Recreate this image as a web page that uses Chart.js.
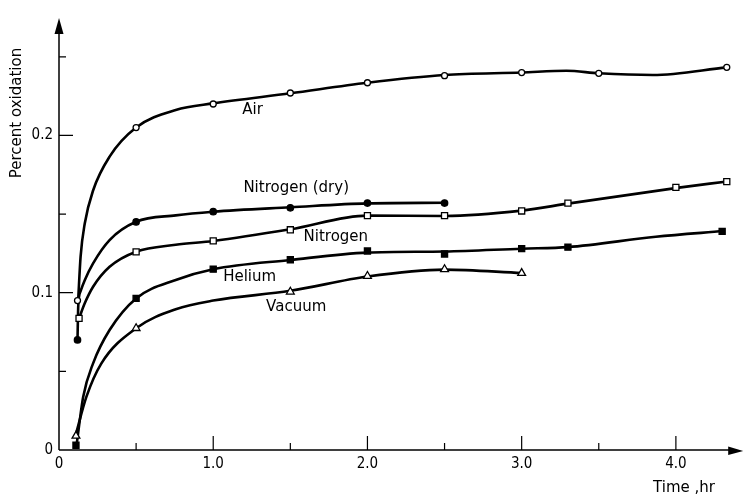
<!DOCTYPE html>
<html>
<head>
<meta charset="utf-8">
<title>Percent oxidation vs time</title>
<script src="https://cdn.jsdelivr.net/npm/chart.js@4/dist/chart.umd.min.js"></script>
<style>
  html, body { margin: 0; padding: 0; background: #fff; }
  #wrap { width: 748px; height: 497px; }
</style>
</head>
<body>
<div id="wrap"><canvas id="chart" width="748" height="497"></canvas></div>
<script>
// Measured points (time in hr, percent oxidation)
const airTime   = [0.12, 0.5, 1.0, 1.5, 2.0, 2.5, 3.0, 3.5, 4.33];
const airPct    = [0.095, 0.205, 0.220, 0.227, 0.2335, 0.238, 0.240, 0.2395, 0.2433];

const n2DryTime = [0.12, 0.5, 1.0, 1.5, 2.0, 2.5];
const n2DryPct  = [0.070, 0.145, 0.1515, 0.154, 0.157, 0.157];

const n2Time    = [0.13, 0.5, 1.0, 1.5, 2.0, 2.5, 3.0, 3.3, 4.0, 4.33];
const n2Pct     = [0.0837, 0.126, 0.133, 0.140, 0.149, 0.149, 0.152, 0.157, 0.167, 0.1706];

const heTime    = [0.11, 0.5, 1.0, 1.5, 2.0, 2.5, 3.0, 3.3, 4.3];
const hePct     = [0.003, 0.0964, 0.115, 0.121, 0.1265, 0.1246, 0.128, 0.129, 0.139];

const vacTime   = [0.11, 0.5, 1.5, 2.0, 2.5, 3.0];
const vacPct    = [0.009, 0.0774, 0.1006, 0.1106, 0.1149, 0.1125];

// Smoothed curves drawn through the measurements
const airCurveTime   = [0.124, 0.14, 0.167, 0.221, 0.328, 0.5, 0.757, 1.0, 1.5, 2.0, 2.5, 3.0, 3.29, 3.5, 3.85, 4.33];
const airCurvePct    = [0.0947, 0.123, 0.144, 0.165, 0.1865, 0.205, 0.2162, 0.2204, 0.2268, 0.2335, 0.2384, 0.240, 0.2411, 0.2395, 0.2384, 0.2433];

const n2DryCurveTime = [0.12, 0.125, 0.14, 0.167, 0.221, 0.328, 0.5, 0.757, 1.0, 1.5, 2.0, 2.5];
const n2DryCurvePct  = [0.070, 0.092, 0.101, 0.108, 0.1187, 0.1335, 0.1451, 0.1492, 0.1515, 0.1543, 0.1568, 0.1572];

const n2CurveTime    = [0.13, 0.167, 0.221, 0.328, 0.5, 0.757, 1.0, 1.5, 2.0, 2.5, 3.0, 3.31, 4.02, 4.32];
const n2CurvePct     = [0.0837, 0.0933, 0.1038, 0.1165, 0.1261, 0.1305, 0.1329, 0.1403, 0.149, 0.1488, 0.1522, 0.1568, 0.1668, 0.1706];

const heCurveTime    = [0.114, 0.157, 0.221, 0.328, 0.5, 0.757, 1.0, 1.5, 2.0, 2.5, 3.0, 3.3, 3.87, 4.31];
const heCurvePct     = [0.0032, 0.0339, 0.0551, 0.0763, 0.0964, 0.1081, 0.1149, 0.1208, 0.1255, 0.1262, 0.128, 0.129, 0.1356, 0.1392];

const vacCurveTime   = [0.107, 0.178, 0.275, 0.5, 0.757, 1.0, 1.5, 2.0, 2.5, 3.0];
const vacCurvePct    = [0.0091, 0.0339, 0.0551, 0.0774, 0.0895, 0.095, 0.1012, 0.1103, 0.1147, 0.1125];

// Axis ranges and labels
const xMax = 4.43;
const yMax = 0.2734;
const xTickLabels = { 0: '0', 1: '1.0', 2: '2.0', 3: '3.0', 4: '4.0' };
const yTickLabels = { 0: '0', 1: '0.1', 2: '0.2' };
const xTitle = 'Time ,hr';
const yTitle = 'Percent oxidation';

// Curve names written beside each curve, placed in data units
const seriesNames = ['Air', 'Nitrogen (dry)', 'Nitrogen', 'Helium', 'Vacuum'];
const nameTime    = [1.255, 1.538, 1.795, 1.236, 1.538];
const namePct     = [0.216, 0.1666, 0.1354, 0.1100, 0.0909];

const TICK_FONT = "'DejaVu Sans Condensed', 'Liberation Sans Narrow', 'DejaVu Sans', sans-serif";
const TEXT_FONT = "'DejaVu Sans', 'Liberation Sans', sans-serif";

function pts(xs, ys) { return xs.map((x, i) => ({ x: x, y: ys[i] })); }

function markerSet(label, xs, ys, style, filled, radius) {
  return {
    label: label,
    data: pts(xs, ys),
    showLine: false,
    pointStyle: style,
    pointRadius: radius,
    pointBorderWidth: 1.3,
    pointBorderColor: '#000',
    pointBackgroundColor: filled ? '#000' : '#fff',
    order: 0
  };
}

function curveSet(label, xs, ys) {
  return {
    label: label,
    data: pts(xs, ys),
    showLine: true,
    borderColor: '#000',
    borderWidth: 2.6,
    pointRadius: 0,
    fill: false,
    cubicInterpolationMode: 'monotone',
    order: 1
  };
}

// Hand-style axes: arrows, inward tick marks, titles and curve names
const axesDecor = {
  id: 'axesDecor',
  afterDraw(chart) {
    const ctx = chart.ctx;
    const xs = chart.scales.x, ys = chart.scales.y;
    const a = chart.chartArea;
    const x0 = xs.getPixelForValue(0), y0 = ys.getPixelForValue(0);
    ctx.save();
    ctx.strokeStyle = '#000';
    ctx.fillStyle = '#000';
    ctx.lineWidth = 1.5;
    // axis lines
    ctx.beginPath();
    ctx.moveTo(x0, y0);
    ctx.lineTo(x0, a.top + 10);
    ctx.moveTo(x0, y0);
    ctx.lineTo(a.right - 10, y0);
    ctx.stroke();
    // arrow heads
    ctx.beginPath();
    ctx.moveTo(x0, a.top - 2);
    ctx.lineTo(x0 - 4.5, a.top + 14);
    ctx.lineTo(x0 + 4.5, a.top + 14);
    ctx.closePath();
    ctx.fill();
    ctx.beginPath();
    ctx.moveTo(a.right + 1, y0 + 1);
    ctx.lineTo(a.right - 14, y0 - 3.5);
    ctx.lineTo(a.right - 14, y0 + 5);
    ctx.closePath();
    ctx.fill();
    // inward ticks
    ctx.lineWidth = 1.2;
    ctx.beginPath();
    for (let k = 1; k <= 8; k++) {
      const v = k * 0.5;
      const px = xs.getPixelForValue(v);
      const len = (k % 2 === 0) ? 14 : 7;
      ctx.moveTo(px, y0);
      ctx.lineTo(px, y0 - len);
    }
    for (let k = 1; k <= 5; k++) {
      const v = k * 0.05;
      const py = ys.getPixelForValue(v);
      const len = (k % 2 === 0) ? 14 : 7;
      ctx.moveTo(x0, py);
      ctx.lineTo(x0 + len, py);
    }
    ctx.stroke();
    // axis titles
    ctx.font = '15px ' + TEXT_FONT;
    ctx.textAlign = 'center';
    ctx.textBaseline = 'middle';
    ctx.fillText(xTitle, 684, 488);
    ctx.save();
    ctx.translate(17, 113);
    ctx.rotate(-Math.PI / 2);
    ctx.fillText(yTitle, 0, 0);
    ctx.restore();
    // curve names
    ctx.font = '15px ' + TEXT_FONT;
    seriesNames.forEach((name, i) => {
      ctx.fillText(name, xs.getPixelForValue(nameTime[i]), ys.getPixelForValue(namePct[i]));
    });
    ctx.restore();
  }
};

new Chart(document.getElementById('chart'), {
  type: 'scatter',
  data: {
    datasets: [
      markerSet('Air', airTime, airPct, 'circle', false, 3),
      markerSet('Nitrogen (dry)', n2DryTime, n2DryPct, 'circle', true, 3.2),
      markerSet('Nitrogen', n2Time, n2Pct, 'rect', false, 4.3),
      markerSet('Helium', heTime, hePct, 'rect', true, 4.3),
      markerSet('Vacuum', vacTime, vacPct, 'triangle', false, 4.5),
      curveSet('Air curve', airCurveTime, airCurvePct),
      curveSet('Nitrogen (dry) curve', n2DryCurveTime, n2DryCurvePct),
      curveSet('Nitrogen curve', n2CurveTime, n2CurvePct),
      curveSet('Helium curve', heCurveTime, heCurvePct),
      curveSet('Vacuum curve', vacCurveTime, vacCurvePct)
    ]
  },
  options: {
    responsive: false,
    animation: false,
    devicePixelRatio: 1,
    layout: { padding: { top: 20, right: 1, left: 0, bottom: 0 } },
    plugins: {
      legend: { display: false },
      tooltip: { enabled: false }
    },
    scales: {
      x: {
        type: 'linear',
        min: 0,
        max: xMax,
        grid: { display: false, drawTicks: false },
        border: { display: false },
        ticks: {
          stepSize: 1,
          autoSkip: false,
          maxRotation: 0,
          padding: 5,
          color: '#000',
          font: { family: TICK_FONT, size: 15 },
          callback: (v) => {
            const r = Math.round(v);
            return Math.abs(v - r) < 1e-6 && xTickLabels[r] !== undefined ? xTickLabels[r] : '';
          }
        },
        afterFit: (s) => { s.height = 47; }
      },
      y: {
        type: 'linear',
        min: 0,
        max: yMax,
        grid: { display: false, drawTicks: false },
        border: { display: false },
        ticks: {
          stepSize: 0.1,
          autoSkip: false,
          padding: 6,
          color: '#000',
          font: { family: TICK_FONT, size: 15 },
          callback: (v) => {
            const r = Math.round(v * 10);
            return Math.abs(v * 10 - r) < 1e-6 && yTickLabels[r] !== undefined ? yTickLabels[r] : '';
          }
        },
        afterFit: (s) => { s.width = 59; }
      }
    }
  },
  plugins: [axesDecor]
});
</script>
</body>
</html>
